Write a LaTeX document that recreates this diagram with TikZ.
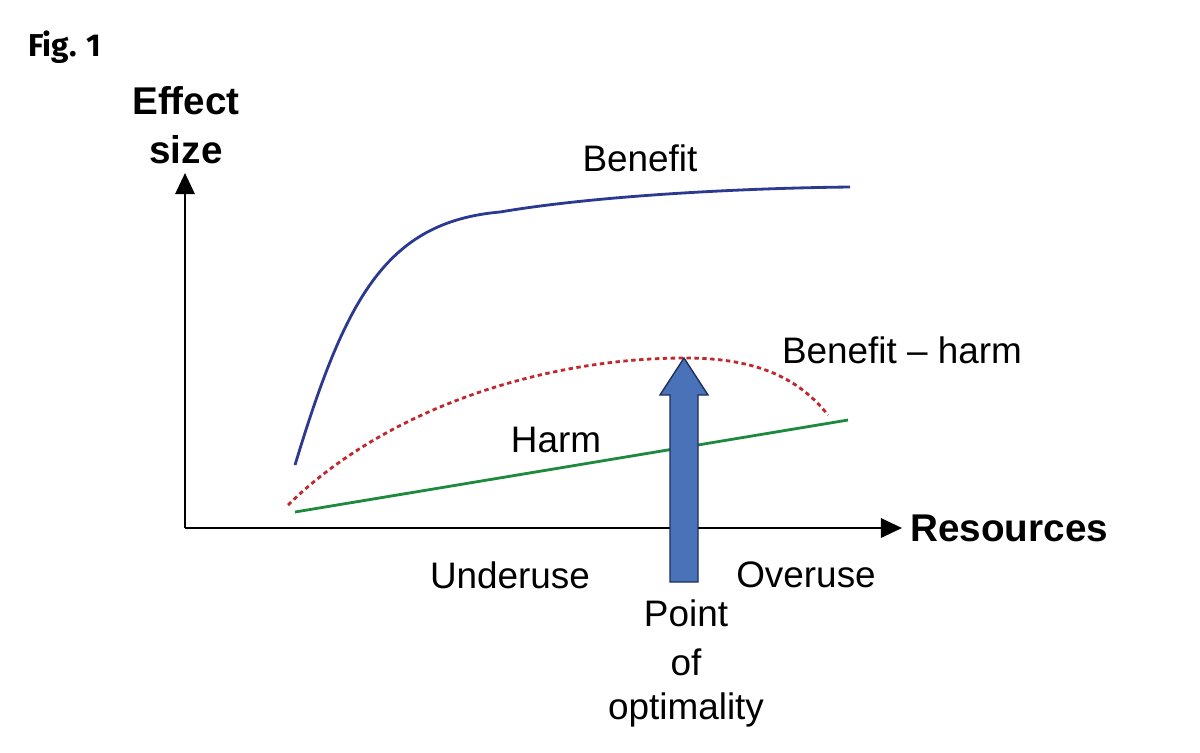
\documentclass[tikz,border=0pt]{standalone}
\usepackage{fontspec}
\setmainfont{Liberation Sans}
\newfontfamily\figfont{Fira Sans}
\usetikzlibrary{arrows.meta}
\definecolor{benblue}{HTML}{2B3990}
\definecolor{harmred}{HTML}{C0282D}
\definecolor{harmgreen}{HTML}{1E8A3C}
\definecolor{arrfill}{HTML}{4A72B8}
\definecolor{arrline}{HTML}{1F2F5C}
\begin{document}
\begin{tikzpicture}[x=0.02cm,y=-0.02cm,
  lbl/.style={font=\fontsize{21}{25}\selectfont,inner sep=0pt},
  blbl/.style={font=\fontsize{22}{28}\selectfont\bfseries,inner sep=0pt},
  axis/.style={line width=1.3pt,-{Triangle[length=12pt,width=11pt]}}]
\useasboundingbox (0,0) rectangle (1200,752);
\fill[white] (0,0) rectangle (1200,752);
\node[inner sep=0pt,anchor=west,font=\figfont\fontsize{18}{22}\selectfont\bfseries] (fig) at (28,47) {Fig. 1};
\coordinate (O) at (185,528);
\coordinate (ytip) at (185,173);
\coordinate (xtip) at (902,528);
\draw[axis] (O) -- (ytip);
\draw[axis] (O) -- (xtip);
\node[blbl,align=center] (ylab) at (186,125) {Effect\\size};
\node[blbl,anchor=west] (xlab) at (910,528) {Resources};
% curves
\coordinate (b0) at (295,465); \coordinate (b1) at (500,212); \coordinate (b2) at (850,187);
\draw[benblue,line width=1.6pt] (b0) .. controls (345,300) and (385,222) .. (b1) .. controls (600,195) and (750,188) .. (b2);
\coordinate (h0) at (295,512); \coordinate (h1) at (848,420);
\draw[harmgreen,line width=1.6pt] (h0) -- (h1);
\coordinate (d0) at (288,505); \coordinate (d1) at (685,358); \coordinate (d2) at (828,415);
\draw[harmred,line width=1.6pt,dash pattern=on 2.5pt off 2pt] (d0) .. controls (390,405) and (550,358) .. (d1) .. controls (760,358) and (800,380) .. (d2);
% arrow
\draw[arrline,fill=arrfill,line width=0.8pt] (670,582) -- (670,395) -- (660,395) -- (684,358) -- (708,395) -- (698,395) -- (698,582) -- cycle;
\node[lbl] (ben) at (640,158) {Benefit};
\node[lbl] (bh) at (902,350) {Benefit – harm};
\node[lbl] (harm) at (556,440) {Harm};
\node[lbl] (under) at (510,575) {Underuse};
\node[lbl] (over) at (806,575) {Overuse};
\node[lbl] (p1) at (686,613) {Point};
\node[lbl] (p2) at (686,662) {of};
\node[lbl] (p3) at (686,710) {optimality};
\end{tikzpicture}
\end{document}
